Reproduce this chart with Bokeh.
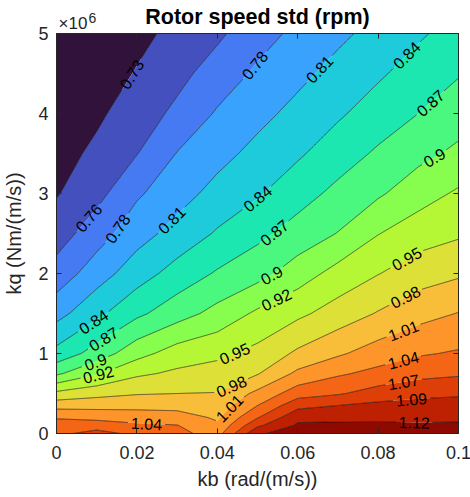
import numpy as np
import contourpy
from bokeh.plotting import figure
from bokeh.models import Range1d, FixedTicker, LinearAxis, Title
from bokeh.core.properties import value
from bokeh.palettes import Turbo256
from bokeh.embed import file_html
from bokeh.resources import INLINE

# ---------------- data ----------------
kb = [0.0, 0.01, 0.02, 0.03, 0.04, 0.05, 0.06, 0.07, 0.08, 0.09, 0.10]          # rad/(m/s)
kq = [0.0, 0.1e6, 0.2e6, 0.35e6, 0.5e6, 0.75e6, 1.0e6, 1.5e6, 2.0e6,
      2.5e6, 3.0e6, 3.5e6, 4.0e6, 4.5e6, 5.0e6]                                 # Nm/(m/s)

# rotor speed std (rpm), one list per kq row, values along kb
std_kq_0_00 = [1.058, 1.075, 1.058, 1.045, 1.025, 1.118, 1.132, 1.133, 1.132, 1.130, 1.128]
std_kq_0_10 = [1.047, 1.052, 1.042, 1.038, 1.014, 1.088, 1.125, 1.126, 1.125, 1.124, 1.124]
std_kq_0_20 = [1.035, 1.029, 1.025, 1.022, 1.005, 1.063, 1.114, 1.115, 1.117, 1.116, 1.117]
std_kq_0_35 = [0.998, 0.999, 1.000, 0.999, 0.993, 1.037, 1.084, 1.093, 1.100, 1.102, 1.104]
std_kq_0_50 = [0.960, 0.972, 0.979, 0.981, 0.982, 1.016, 1.052, 1.062, 1.077, 1.086, 1.089]
std_kq_0_75 = [0.892, 0.922, 0.948, 0.958, 0.964, 0.979, 1.015, 1.033, 1.045, 1.056, 1.061]
std_kq_1_00 = [0.850, 0.881, 0.915, 0.938, 0.947, 0.961, 0.986, 1.005, 1.022, 1.034, 1.040]
std_kq_1_50 = [0.803, 0.834, 0.863, 0.885, 0.906, 0.930, 0.947, 0.965, 0.983, 0.999, 1.010]
std_kq_2_00 = [0.768, 0.800, 0.828, 0.852, 0.872, 0.887, 0.911, 0.935, 0.952, 0.968, 0.977]
std_kq_2_50 = [0.744, 0.772, 0.802, 0.823, 0.844, 0.862, 0.880, 0.898, 0.924, 0.940, 0.949]
std_kq_3_00 = [0.727, 0.748, 0.781, 0.802, 0.822, 0.838, 0.858, 0.876, 0.893, 0.913, 0.929]
std_kq_3_50 = [0.718, 0.735, 0.756, 0.786, 0.804, 0.821, 0.837, 0.856, 0.873, 0.889, 0.903]
std_kq_4_00 = [0.708, 0.724, 0.743, 0.763, 0.788, 0.805, 0.821, 0.837, 0.854, 0.869, 0.884]
std_kq_4_50 = [0.699, 0.714, 0.731, 0.749, 0.769, 0.790, 0.806, 0.822, 0.837, 0.853, 0.867]
std_kq_5_00 = [0.690, 0.705, 0.721, 0.737, 0.752, 0.773, 0.792, 0.807, 0.822, 0.837, 0.852]

contour_levels = [0.729, 0.757, 0.785, 0.813, 0.841, 0.869, 0.897, 0.925,
                  0.953, 0.981, 1.009, 1.037, 1.065, 1.093, 1.121]
contour_level_text = ["0.73", "0.76", "0.78", "0.81", "0.84", "0.87", "0.9", "0.92",
                      "0.95", "0.98", "1.01", "1.04", "1.07", "1.09", "1.12"]

# which contour carries an inline label, and at which kb it sits
label_level_index = [0, 2, 3, 4, 5, 6,
                     1, 2, 3, 4, 5, 6, 7,
                     4, 5, 6, 7,
                     8, 9, 10, 11,
                     8, 9, 10, 11, 12, 13, 14]
label_at_kb = [0.0187, 0.0493, 0.0654, 0.0871, 0.0930, 0.0940,
               0.0080, 0.0152, 0.0286, 0.0500, 0.0542, 0.0535, 0.0547,
               0.0092, 0.0117, 0.0097, 0.0104,
               0.0443, 0.0435, 0.0430, 0.0224,
               0.0871, 0.0868, 0.0863, 0.0863, 0.0863, 0.0883, 0.0890]

x_ticks = [0, 0.02, 0.04, 0.06, 0.08, 0.1]
x_tick_labels = ["0", "0.02", "0.04", "0.06", "0.08", "0.1"]
y_ticks = [0, 1e6, 2e6, 3e6, 4e6, 5e6]
y_tick_labels = ["0", "1", "2", "3", "4", "5"]

# ---------------- build ----------------
X = np.array(kb)
Y = np.array(kq)
Z = np.array([std_kq_0_00, std_kq_0_10, std_kq_0_20, std_kq_0_35, std_kq_0_50,
              std_kq_0_75, std_kq_1_00, std_kq_1_50, std_kq_2_00, std_kq_2_50,
              std_kq_3_00, std_kq_3_50, std_kq_4_00, std_kq_4_50, std_kq_5_00])

W, H = 402, 400
XMIN, XMAX, YMIN, YMAX = 0.0, 0.1, 0.0, 5e6
sx = W / (XMAX - XMIN)
sy = H / (YMAX - YMIN)

FONT = "Liberation Sans"
AX_COLOR = "#262626"

zmin, zmax = float(Z.min()), float(Z.max())
fill_levels = [zmin - 0.01] + contour_levels + [zmax + 0.01]
band_values = [zmin] + contour_levels
band_colors = []
for v in band_values:
    idx = int(np.floor((v - zmin) / (zmax - zmin) * 256))
    band_colors.append(Turbo256[max(0, min(255, idx))])

p = figure(frame_width=W, frame_height=H,
           x_range=Range1d(XMIN, XMAX), y_range=Range1d(YMIN, YMAX),
           output_backend="svg", toolbar_location=None,
           min_border_left=55, min_border_right=13,
           min_border_top=33, min_border_bottom=64,
           background_fill_color="white", border_fill_color="white")
p.xgrid.visible = False
p.ygrid.visible = False

p.contour(X, Y, Z, levels=fill_levels, fill_color=band_colors, line_color=None)

# contour lines and inline labels
gen = contourpy.contour_generator(X, Y, Z, line_type="Separate")
LABEL_PX = 16


def text_width(s):
    return LABEL_PX * sum(0.278 if c == "." else 0.556 for c in s)


lab_x, lab_y, lab_t, lab_a = [], [], [], []
gaps = {k: [] for k in range(len(contour_levels))}
for k, xk in zip(label_level_index, label_at_kb):
    found = None
    for line in gen.lines(contour_levels[k]):
        for (x0, y0), (x1, y1) in zip(line[:-1], line[1:]):
            if x0 != x1 and (x0 - xk) * (x1 - xk) <= 0:
                t = (xk - x0) / (x1 - x0)
                yk = y0 + t * (y1 - y0)
                ang = np.arctan2((y1 - y0) * sy, (x1 - x0) * sx)
                if ang > np.pi / 2:
                    ang -= np.pi
                if ang < -np.pi / 2:
                    ang += np.pi
                found = (yk, ang)
                break
        if found:
            break
    if found is None:
        continue
    txt = contour_level_text[k]
    lab_x.append(xk)
    lab_y.append(found[0])
    lab_t.append(txt)
    lab_a.append(found[1])
    gaps[k].append((xk * sx, found[0] * sy, text_width(txt) / 2 + 2.5))

xs, ys = [], []
for k, lev in enumerate(contour_levels):
    for line in gen.lines(lev):
        pts = np.column_stack([line[:, 0] * sx, line[:, 1] * sy])
        dense = [pts[0]]
        for a, b in zip(pts[:-1], pts[1:]):
            d = float(np.hypot(*(b - a)))
            n = max(1, int(np.ceil(d / 0.75)))
            tt = np.arange(1, n + 1) / n
            dense.extend(a + (b - a) * tt[:, None])
        dense = np.array(dense)
        keep = np.ones(len(dense), dtype=bool)
        for cx, cy, r in gaps[k]:
            keep &= np.hypot(dense[:, 0] - cx, dense[:, 1] - cy) > r
        run = []
        for ok, pt in zip(keep, dense):
            if ok:
                run.append(pt)
            else:
                if len(run) > 1:
                    arr = np.array(run)
                    xs.append(list(arr[:, 0] / sx))
                    ys.append(list(arr[:, 1] / sy))
                run = []
        if len(run) > 1:
            arr = np.array(run)
            xs.append(list(arr[:, 0] / sx))
            ys.append(list(arr[:, 1] / sy))

p.multi_line(xs, ys, line_color="black", line_width=0.6)
p.text(x=lab_x, y=lab_y, text=lab_t, angle=lab_a,
       text_align="center", text_baseline="middle",
       text_font=value(FONT), text_font_size=f"{LABEL_PX}px", text_color="black")


def style_axis(ax, ticks, labels, show_labels=True):
    ax.ticker = FixedTicker(ticks=ticks)
    ax.minor_tick_line_color = None
    ax.major_tick_in = 5
    ax.major_tick_out = 0
    ax.axis_line_color = AX_COLOR
    ax.major_tick_line_color = AX_COLOR
    ax.major_label_text_font = FONT
    ax.axis_label_text_font = FONT
    ax.axis_label_text_font_style = "normal"
    ax.axis_label_text_color = AX_COLOR
    if show_labels:
        ax.major_label_overrides = {t: s for t, s in zip(ticks, labels)}
        ax.major_label_text_color = AX_COLOR
        ax.major_label_text_font_size = "18px"
    else:
        ax.major_label_text_color = None
        ax.major_label_text_font_size = "0px"
        ax.major_label_standoff = 0


style_axis(p.xaxis[0], x_ticks, x_tick_labels)
p.xaxis[0].major_label_standoff = 12
p.xaxis[0].axis_label = "kb (rad/(m/s))"
p.xaxis[0].axis_label_text_font_size = "20px"
p.xaxis[0].axis_label_standoff = 6

style_axis(p.yaxis[0], y_ticks, y_tick_labels)
p.yaxis[0].major_label_standoff = 8
p.yaxis[0].axis_label = "kq (Nm/(m/s))"
p.yaxis[0].axis_label_text_font_size = "20px"
p.yaxis[0].axis_label_standoff = 10

top_axis = LinearAxis()
style_axis(top_axis, x_ticks, x_tick_labels, show_labels=False)
p.add_layout(top_axis, "above")
right_axis = LinearAxis()
style_axis(right_axis, y_ticks, y_tick_labels, show_labels=False)
p.add_layout(right_axis, "right")

p.outline_line_color = AX_COLOR

# exponent of the kq axis ("×10" with a raised "6"), above the top-left corner
exp_base = Title(text="×10")
exp_base.align = "left"
exp_base.offset = 2
exp_base.standoff = 2
exp_base.text_font = FONT
exp_base.text_font_size = "17px"
exp_base.text_font_style = "normal"
exp_base.text_color = AX_COLOR
p.add_layout(exp_base, "above")

exp_power = Title(text="6")
exp_power.align = "left"
exp_power.offset = 32
exp_power.standoff = -24
exp_power.text_font = FONT
exp_power.text_font_size = "14px"
exp_power.text_font_style = "normal"
exp_power.text_color = AX_COLOR
p.add_layout(exp_power, "above")

p.title.text = "Rotor speed std (rpm)"
p.title.align = "center"
p.title.text_font = FONT
p.title.text_font_size = "21.5px"
p.title.text_font_style = "bold"
p.title.text_color = "black"
p.title.standoff = -36

open("out.html", "w").write(file_html(p, INLINE))
